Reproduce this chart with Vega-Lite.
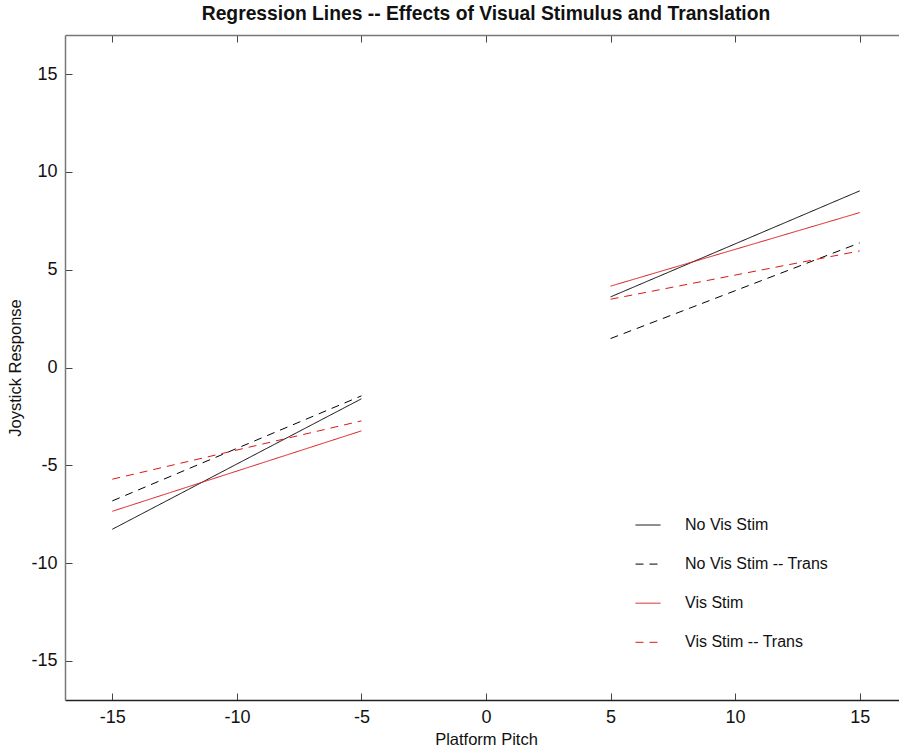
{
  "$schema": "https://vega.github.io/schema/vega-lite/v6.json",
  "autosize": {"type": "none"},
  "padding": {"left": 65, "top": 35, "right": 0, "bottom": 49},
  "width": 842,
  "height": 665,
  "background": "white",
  "config": {
    "view": {"stroke": null},
    "font": "Liberation Sans",
    "axis": {"grid": false, "domainColor": "#222", "tickColor": "#444", "labelColor": "#111", "titleColor": "#111"}
  },
  "title": {
    "text": "Regression Lines -- Effects of Visual Stimulus and Translation",
    "font": "Liberation Sans",
    "fontSize": 19.3,
    "fontWeight": "bold",
    "color": "#111",
    "anchor": "middle",
    "frame": "group",
    "offset": 10
  },
  "data": {
    "values": [
      {"series": "No Vis Stim", "seg": "L", "x": -15, "y": -8.27},
      {"series": "No Vis Stim", "seg": "L", "x": -5, "y": -1.6},
      {"series": "No Vis Stim", "seg": "R", "x": 5, "y": 3.61},
      {"series": "No Vis Stim", "seg": "R", "x": 15, "y": 9.03},
      {"series": "No Vis Stim -- Trans", "seg": "L", "x": -15, "y": -6.82},
      {"series": "No Vis Stim -- Trans", "seg": "L", "x": -5, "y": -1.45},
      {"series": "No Vis Stim -- Trans", "seg": "R", "x": 5, "y": 1.48},
      {"series": "No Vis Stim -- Trans", "seg": "R", "x": 15, "y": 6.37},
      {"series": "Vis Stim", "seg": "L", "x": -15, "y": -7.35},
      {"series": "Vis Stim", "seg": "L", "x": -5, "y": -3.24},
      {"series": "Vis Stim", "seg": "R", "x": 5, "y": 4.16},
      {"series": "Vis Stim", "seg": "R", "x": 15, "y": 7.92},
      {"series": "Vis Stim -- Trans", "seg": "L", "x": -15, "y": -5.71},
      {"series": "Vis Stim -- Trans", "seg": "L", "x": -5, "y": -2.73},
      {"series": "Vis Stim -- Trans", "seg": "R", "x": 5, "y": 3.49},
      {"series": "Vis Stim -- Trans", "seg": "R", "x": 15, "y": 5.96}
    ]
  },
  "layer": [
    {
      "mark": {"type": "line", "strokeWidth": 1, "clip": true},
      "encoding": {
        "x": {
          "field": "x", "type": "quantitative",
          "scale": {"domain": [-16.9, 16.9], "nice": false, "zero": false},
          "axis": {
            "orient": "bottom", "values": [-15, -10, -5, 0, 5, 10, 15],
            "labelExpr": "datum.value + ''",
            "tickSize": -7, "labelPadding": 15, "labelFontSize": 18, "labelFont": "Liberation Sans",
            "title": "Platform Pitch", "titleFontSize": 16.5, "titleFontWeight": "normal",
            "titleX": 421, "titleY": 31, "titleBaseline": "top", "titleAnchor": "middle", "titleAlign": "center", "domainWidth": 1.5
          }
        },
        "y": {
          "field": "y", "type": "quantitative",
          "scale": {"domain": [-17, 17], "nice": false, "zero": false},
          "axis": {
            "orient": "left", "values": [-15, -10, -5, 0, 5, 10, 15],
            "labelExpr": "datum.value + ''",
            "tickSize": -7, "labelPadding": 15, "labelFontSize": 18, "labelFont": "Liberation Sans",
            "title": "Joystick Response", "titleFontSize": 16.5, "titleFontWeight": "normal", "titlePadding": 7,
            "domainColor": "#777", "domainWidth": 1.5
          }
        },
        "detail": {"field": "seg"},
        "color": {
          "field": "series", "type": "nominal",
          "scale": {
            "domain": ["No Vis Stim", "No Vis Stim -- Trans", "Vis Stim", "Vis Stim -- Trans"],
            "range": ["#000000", "#000000", "#d81818", "#d81818"]
          },
          "legend": {
            "orient": "none", "legendX": 570, "legendY": 477,
            "title": null, "symbolType": "stroke", "symbolSize": 625, "symbolStrokeWidth": 1,
            "labelFontSize": 16, "labelFont": "Liberation Sans", "labelOffset": 24, "labelColor": "#111",
            "rowPadding": 18.1, "padding": 0
          }
        },
        "strokeDash": {
          "field": "series", "type": "nominal",
          "scale": {
            "domain": ["No Vis Stim", "No Vis Stim -- Trans", "Vis Stim", "Vis Stim -- Trans"],
            "range": [[1, 0], [8, 6], [1, 0], [8, 6]]
          },
          "legend": null
        }
      }
    },
    {
      "mark": {"type": "rule", "opacity": 0},
      "encoding": {
        "x": {
          "datum": 0, "type": "quantitative",
          "scale": {"domain": [-16.9, 16.9], "nice": false, "zero": false},
          "axis": {"orient": "top", "values": [-15, -10, -5, 0, 5, 10, 15], "tickSize": -7, "labels": false, "title": null, "domainColor": "#777", "domainWidth": 1.5}
        }
      }
    }
  ],
  "resolve": {"axis": {"x": "independent"}}
}
